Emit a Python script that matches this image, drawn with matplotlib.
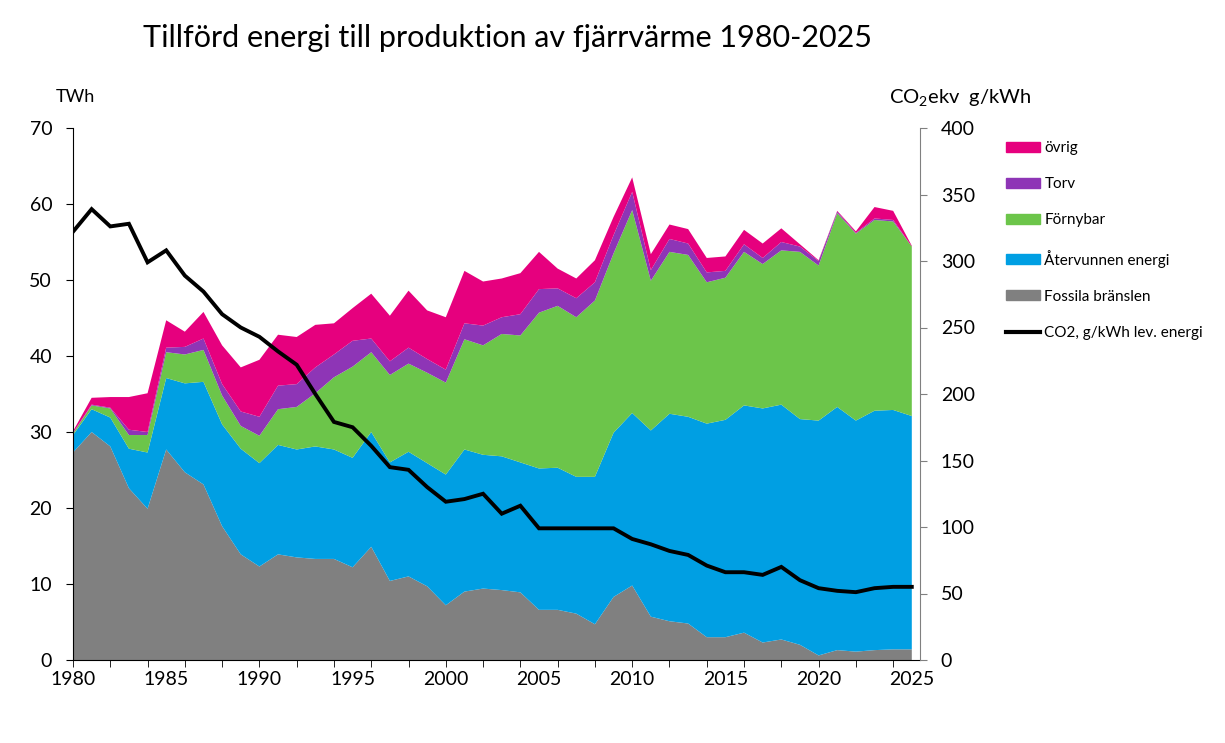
import numpy as np
import matplotlib.pyplot as plt
from matplotlib.patches import Patch
from matplotlib.lines import Line2D
from matplotlib.ticker import MultipleLocator

plt.rcParams['font.family'] = ['Lato', 'DejaVu Sans']
plt.rcParams['mathtext.fontset'] = 'custom'
plt.rcParams['mathtext.rm'] = 'Lato'

# årtal 1980-2025
years = np.arange(1980, 2026)

# TWh per kategori
fossila = [27.3, 30.0, 28.1, 22.6, 19.9, 27.7, 24.7, 23.1, 17.6, 13.9,
           12.3, 13.9, 13.5, 13.3, 13.3, 12.2, 14.9, 10.4, 11.0, 9.7,
           7.2, 9.0, 9.4, 9.2, 8.9, 6.6, 6.6, 6.1, 4.7, 8.3,
           9.8, 5.7, 5.1, 4.8, 3.0, 3.0, 3.6, 2.3, 2.7, 2.0,
           0.6, 1.3, 1.1, 1.3, 1.4, 1.4]
atervunnen = [2.3, 3.0, 3.8, 5.2, 7.4, 9.4, 11.7, 13.5, 13.4, 13.9,
              13.6, 14.4, 14.2, 14.8, 14.4, 14.4, 15.1, 15.6, 16.4, 16.2,
              17.2, 18.7, 17.6, 17.6, 17.1, 18.6, 18.7, 18.0, 19.4, 21.6,
              22.7, 24.5, 27.3, 27.2, 28.1, 28.6, 29.9, 30.8, 30.9, 29.7,
              30.9, 32.0, 30.4, 31.5, 31.5, 30.7]
fornybar = [0.2, 0.5, 1.2, 1.8, 2.3, 3.4, 3.8, 4.2, 3.8, 3.0,
            3.6, 4.7, 5.6, 7.0, 9.5, 12.0, 10.5, 11.5, 11.6, 11.9,
            12.1, 14.5, 14.4, 16.1, 16.7, 20.5, 21.3, 21.0, 23.2, 23.6,
            26.7, 19.7, 21.3, 21.3, 18.6, 18.7, 20.2, 19.0, 20.3, 22.0,
            20.4, 25.5, 24.6, 25.1, 24.8, 22.3]
torv = [0.1, 0.1, 0.1, 0.7, 0.4, 0.6, 1.0, 1.5, 1.5, 1.9,
        2.5, 3.1, 3.0, 3.4, 3.0, 3.4, 1.8, 1.8, 2.1, 1.8,
        1.7, 2.1, 2.6, 2.2, 2.8, 3.1, 2.3, 2.5, 2.4, 2.4,
        2.4, 1.4, 1.7, 1.5, 1.3, 0.9, 1.0, 0.8, 1.1, 0.7,
        0.6, 0.2, 0.1, 0.2, 0.2, 0.0]
ovrig = [0.2, 0.9, 1.4, 4.3, 5.1, 3.6, 2.0, 3.5, 5.1, 5.8,
         7.5, 6.7, 6.2, 5.6, 4.1, 4.3, 5.9, 6.0, 7.5, 6.4,
         6.9, 6.9, 5.8, 5.1, 5.4, 4.9, 2.6, 2.6, 2.9, 2.4,
         1.9, 2.1, 1.9, 1.9, 1.9, 1.9, 1.9, 1.9, 1.8, 0.3,
         0.1, 0.1, 0.2, 1.5, 1.2, 0.1]

# CO2ekv g/kWh
co2 = [322, 339, 326, 328, 299, 308, 289, 277, 260, 250,
       243, 232, 222, 200, 179, 175, 161, 145, 143, 130,
       119, 121, 125, 110, 116, 99, 99, 99, 99, 99,
       91, 87, 82, 79, 71, 66, 66, 64, 70, 60,
       54, 52, 51, 54, 55, 55]

labels = ['Fossila bränslen', 'Återvunnen energi', 'Förnybar', 'Torv', 'övrig']
colors = ['#808080', '#009FE3', '#6CC54A', '#8E35B6', '#E6007E']

fig = plt.figure(figsize=(12.25, 7.43), dpi=100)
ax = fig.add_axes([73/1225, 83/743, 847/1225, 532/743])

ax.stackplot(years, fossila, atervunnen, fornybar, torv, ovrig,
             colors=colors, linewidth=0)
ax.set_xlim(1980, 2025.44)
ax.set_ylim(0, 70)
ax.yaxis.set_major_locator(MultipleLocator(10))

# etiketter vart 5:e år, streck vartannat år
ax.set_xticks(np.arange(1980, 2026, 5))
ax.set_xticks(np.arange(1980, 2025, 2), minor=True)
ax.xaxis.remove_overlapping_locs = False
ax.tick_params(axis='x', which='major', length=0, labelsize=14, pad=8)
ax.tick_params(axis='x', which='minor', length=5, direction='out')
ax.tick_params(axis='y', length=5, labelsize=14, pad=10)
for s in ['top', 'right']:
    ax.spines[s].set_visible(False)

ax2 = ax.twinx()
ax2.plot(years, co2, color='black', lw=2.8, solid_joinstyle='miter')
ax2.set_ylim(0, 400)
ax2.yaxis.set_major_locator(MultipleLocator(50))
ax2.tick_params(axis='y', length=5, labelsize=14, color='#808080', pad=10)
ax2.spines['right'].set_color('#808080')
for s in ['top', 'left', 'bottom']:
    ax2.spines[s].set_visible(False)

fig.text(508/1225, 1 - 38/743, 'Tillförd energi till produktion av fjärrvärme 1980-2025',
         ha='center', va='center', fontsize=22)
fig.text(56/1225, 1 - 97/743, 'TWh', ha='left', va='center', fontsize=13)
fig.text(889/1225, 1 - 97/743, r'$\mathregular{CO_2}$ekv  g/kWh', ha='left', va='center', fontsize=14.5)

handles = [Patch(color=c) for c in colors[::-1]]
handles.append(Line2D([], [], color='black', lw=3))
names = labels[::-1] + ['CO2, g/kWh lev. energi']
fig.legend(handles, names, loc='upper left', bbox_to_anchor=(1000/1225, 1 - 135/743),
           frameon=False, fontsize=11, handlelength=2.2, handleheight=0.6,
           labelspacing=1.45, handletextpad=0.3, borderaxespad=0)

fig.savefig('out.png', dpi=100)
